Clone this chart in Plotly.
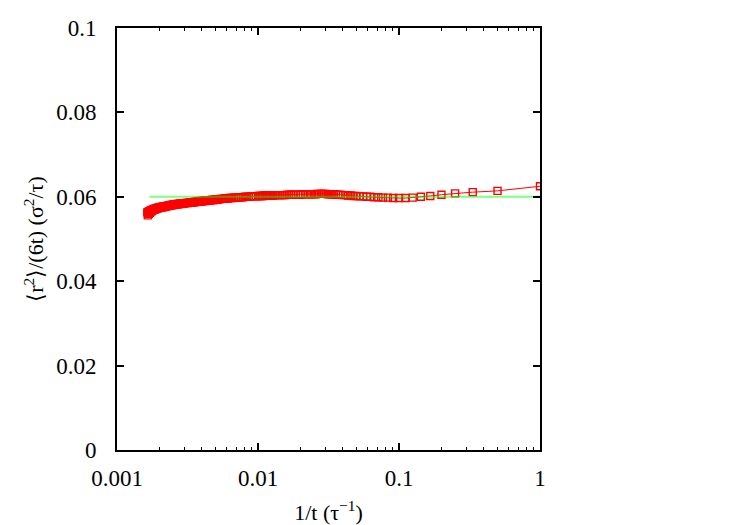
import plotly.graph_objects as go

# sampled times t (tau); plotted at 1/t
t_vals = (list(range(1, 41)) + list(range(42, 101, 2)) + list(range(104, 301, 4))
          + list(range(305, 611, 5)))
msd_vals = [
    # t = 1..20
    0.0625, 0.0614, 0.0611, 0.0608, 0.0605, 0.0602, 0.0600, 0.0598, 0.0597, 0.0597,
    0.0597, 0.0598, 0.0598, 0.0599, 0.0599, 0.0600, 0.0600, 0.0601, 0.0601, 0.0602,
    # t = 21..40
    0.0602, 0.0603, 0.0603, 0.0604, 0.0604, 0.0605, 0.0605, 0.0605, 0.0606, 0.0606,
    0.0606, 0.0606, 0.0607, 0.0607, 0.0607, 0.0607, 0.0607, 0.0607, 0.0606, 0.0606,
    # t = 42..100 step 2
    0.0606, 0.0606, 0.0606, 0.0606, 0.0605, 0.0605, 0.0605, 0.0605, 0.0605, 0.0605,
    0.0605, 0.0604, 0.0604, 0.0604, 0.0604, 0.0604, 0.0604, 0.0604, 0.0603, 0.0603,
    0.0603, 0.0603, 0.0603, 0.0603, 0.0603, 0.0602, 0.0602, 0.0602, 0.0602, 0.0602,
    # t = 104..300 step 4
    0.0601, 0.0601, 0.0601, 0.0600, 0.0600, 0.0600, 0.0599, 0.0599, 0.0599, 0.0598,
    0.0598, 0.0598, 0.0597, 0.0597, 0.0597, 0.0596, 0.0596, 0.0596, 0.0595, 0.0595,
    0.0595, 0.0594, 0.0594, 0.0593, 0.0594, 0.0593, 0.0592, 0.0593, 0.0592, 0.0592,
    0.0591, 0.0592, 0.0591, 0.0590, 0.0591, 0.0590, 0.0590, 0.0589, 0.0590, 0.0589,
    0.0589, 0.0588, 0.0589, 0.0588, 0.0587, 0.0588, 0.0587, 0.0587, 0.0586, 0.0587,
    # t = 305..610 step 5
    0.0586, 0.0586, 0.0585, 0.0586, 0.0585, 0.0585, 0.0584, 0.0585, 0.0584, 0.0584,
    0.0583, 0.0584, 0.0583, 0.0582, 0.0583, 0.0582, 0.0582, 0.0581, 0.0582, 0.0581,
    0.0580, 0.0581, 0.0580, 0.0579, 0.0580, 0.0579, 0.0578, 0.0579, 0.0578, 0.0577,
    0.0578, 0.0577, 0.0576, 0.0577, 0.0576, 0.0575, 0.0576, 0.0575, 0.0574, 0.0575,
    0.0574, 0.0573, 0.0574, 0.0572, 0.0573, 0.0571, 0.0572, 0.0570, 0.0571, 0.0569,
    0.0570, 0.0568, 0.0566, 0.0569, 0.0565, 0.0567, 0.0562, 0.0566, 0.0560, 0.0564,
    0.0556, 0.0563,
]
inv_t = [1.0 / t for t in t_vals]

fit_x = [0.0017, 1.0]
fit_y = [0.06, 0.06]

x_major = [0.001, 0.01, 0.1, 1]
x_major_text = ["0.001", "0.01", "0.1", "1"]
x_minor = [m * 10.0 ** e for e in (-3, -2, -1) for m in range(2, 10)]
y_ticks = [0, 0.02, 0.04, 0.06, 0.08, 0.1]
y_text = ["0", "0.02", "0.04", "0.06", "0.08", "0.1"]

fig = go.Figure()
fig.add_trace(go.Scatter(
    x=inv_t, y=msd_vals, mode="lines+markers",
    line=dict(color="rgb(255,0,0)", width=1),
    marker=dict(symbol="square-open", size=7, color="rgb(255,0,0)", line=dict(width=1.4)),
    showlegend=False))
fig.add_trace(go.Scatter(
    x=fit_x, y=fit_y, mode="lines",
    line=dict(color="rgb(0,255,0)", width=2), opacity=0.5, showlegend=False))

FAM = "Times New Roman, Liberation Serif, serif"
font = dict(family=FAM, size=22, color="black")
tfont = dict(family=FAM, size=23, color="black")
fig.update_layout(
    width=750, height=525,
    margin=dict(l=117, r=210, t=28, b=75, autoexpand=False),
    paper_bgcolor="white", plot_bgcolor="white",
    font=font,
)
fig.update_xaxes(
    type="log", range=[-3, 0], automargin=False,
    tickvals=x_major, ticktext=x_major_text, tickfont=tfont,
    ticks="inside", ticklen=7, tickwidth=1.5, tickcolor="black",
    minor=dict(tickvals=x_minor, ticks="inside", ticklen=3, tickwidth=1, tickcolor="black"),
    showline=True, linecolor="black", linewidth=2, mirror="allticks",
    showgrid=False, zeroline=False, ticklabelstandoff=6,
    title=dict(text="1/t (τ<sup>−1</sup>)", standoff=16, font=font),
)
fig.update_yaxes(
    range=[0, 0.1], automargin=False,
    tickvals=y_ticks, ticktext=y_text, tickfont=tfont,
    ticks="inside", ticklen=7, tickwidth=1.5, tickcolor="black",
    showline=True, linecolor="black", linewidth=2, mirror="allticks",
    showgrid=False, zeroline=False, ticklabelstandoff=14,
    title=dict(text="⟨r<sup>2</sup>⟩/(6t) (σ<sup>2</sup>/τ)", standoff=6, font=font),
)
fig.write_html("out.html")
